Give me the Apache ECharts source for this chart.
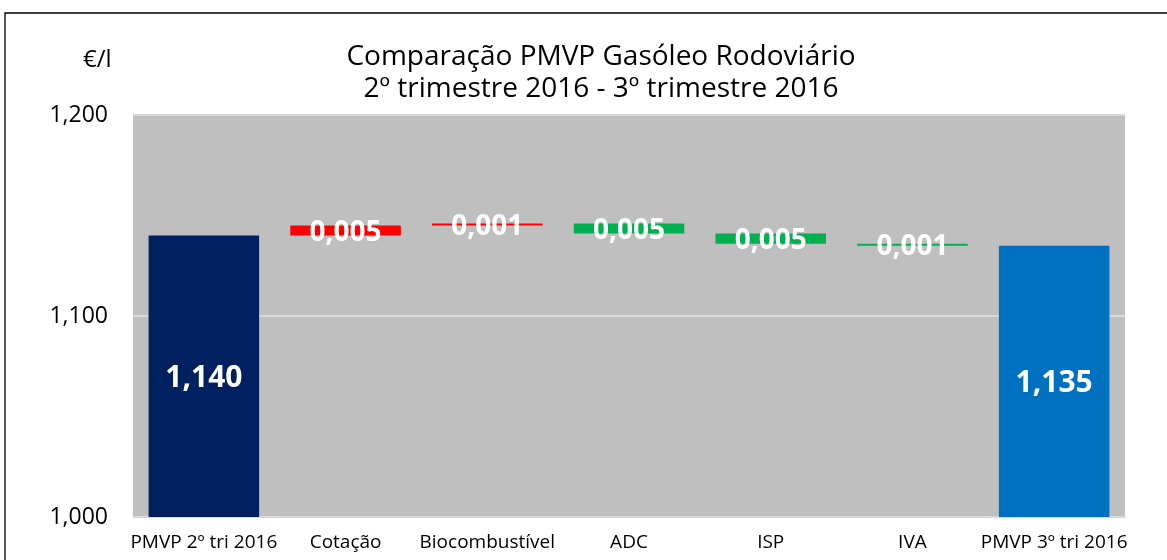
<!DOCTYPE html>
<html>
<head>
<meta charset="utf-8">
<script src="https://cdn.jsdelivr.net/npm/echarts@6/dist/echarts.min.js"></script>
<style>
  html, body { margin: 0; padding: 0; background: #fff; }
  #chart { width: 1167px; height: 560px; }
</style>
</head>
<body>
<div id="chart"></div>
<script>
const categories = ['PMVP 2º tri 2016', 'Cotação', 'Biocombustível', 'ADC', 'ISP', 'IVA', 'PMVP 3º tri 2016']
const startValue = 1.140
const endValue = 1.135
// variations between the two quarters (positive = increase)
const deltas = [0.005, 0.001, -0.005, -0.005, -0.001]
const yTicks = [1.0, 1.1, 1.2]

const FONT = '"Open Sans", "Noto Sans", sans-serif'
const fmt = v => v.toFixed(3).replace('.', ',')

// build waterfall: transparent base + visible part
const baseData = []
const barData = []
baseData.push(0)
barData.push({ value: startValue, itemStyle: { color: '#002060' }, label: { fontSize: 30 } })
let level = startValue
deltas.forEach(d => {
  const next = level + d
  baseData.push(Math.min(level, next))
  barData.push({
    value: Math.abs(d),
    itemStyle: { color: d > 0 ? '#FF0000' : '#00B050' },
  })
  level = next
})
baseData.push(0)
barData.push({ value: endValue, itemStyle: { color: '#0070C0' }, label: { fontSize: 30 } })

const chart = echarts.init(document.getElementById('chart'))
chart.setOption({
  animation: false,
  title: {
    text: 'Comparação PMVP Gasóleo Rodoviário\n2º trimestre 2016 - 3º trimestre 2016',
    left: 596,
    top: 36,
    textAlign: 'center',
    textStyle: {
      fontFamily: FONT,
      fontSize: 28,
      fontWeight: 'normal',
      color: '#000',
      lineHeight: 32,
    },
  },
  graphic: [
    {
      type: 'rect',
      shape: { x: 5, y: 13, width: 1300, height: 700 },
      style: { fill: 'none', stroke: '#000', lineWidth: 1.3 },
      silent: true,
    },
    {
      type: 'text',
      left: 83,
      top: 48,
      style: { text: '€/l', font: '24px ' + FONT, fill: '#000' },
    },
  ],
  grid: {
    left: 133,
    right: 42,
    top: 115,
    bottom: 43,
    show: true,
    backgroundColor: '#BFBFBF',
    borderWidth: 0,
  },
  xAxis: {
    type: 'category',
    data: categories,
    axisTick: { show: false },
    axisLine: { lineStyle: { color: '#D9D9D9', width: 2 } },
    axisLabel: {
      interval: 0,
      fontFamily: FONT,
      fontSize: 19,
      color: '#000',
      margin: 16,
    },
  },
  yAxis: {
    type: 'value',
    min: yTicks[0],
    max: yTicks[yTicks.length - 1],
    interval: 0.1,
    axisLine: { show: false },
    axisTick: { show: false },
    splitLine: { lineStyle: { color: '#D9D9D9', width: 2 } },
    axisLabel: {
      fontFamily: FONT,
      fontSize: 23,
      color: '#000',
      margin: 25,
      formatter: v => fmt(v),
    },
  },
  series: [
    {
      type: 'bar',
      stack: 'wf',
      data: baseData,
      itemStyle: { color: 'transparent' },
      barWidth: '78%',
      silent: true,
    },
    {
      type: 'bar',
      stack: 'wf',
      data: barData,
      barWidth: '78%',
      barMinHeight: 1,
      label: {
        show: true,
        position: 'inside',
        offset: [0, 2],
        color: '#fff',
        fontFamily: FONT,
        fontWeight: 'bold',
        fontSize: 28,
        formatter: p => fmt(p.value),
      },
    },
  ],
})
</script>
</body>
</html>
